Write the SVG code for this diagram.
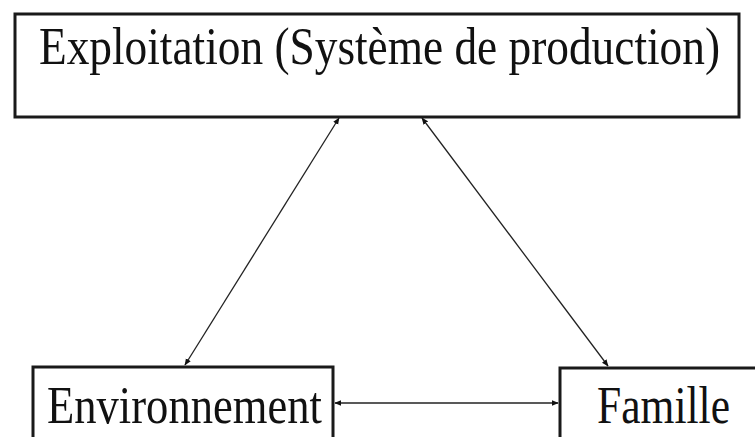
<svg xmlns="http://www.w3.org/2000/svg" width="755" height="437" viewBox="0 0 755 437">
<defs>
<style>
.box{fill:#fff;stroke:#1a1a1a;stroke-width:3}
.lbl{font-family:"Liberation Serif","Times New Roman",serif;font-size:52px;fill:#111}
.con{stroke:#222;stroke-width:1.3;fill:none;marker-start:url(#ah);marker-end:url(#ah)}
</style>
<marker id="ah" viewBox="0 0 10 10" refX="9" refY="5" markerWidth="7" markerHeight="7" markerUnits="userSpaceOnUse" orient="auto-start-reverse">
<path d="M0,1 L10,5 L0,9 z" fill="#111"/>
</marker>
</defs>
<rect width="755" height="437" fill="#fff"/>
<g id="connectors">
<line class="con" x1="339" y1="118" x2="185" y2="365"/>
<line class="con" x1="422" y1="118" x2="608" y2="366"/>
<line class="con" x1="335" y1="403" x2="558" y2="403"/>
</g>
<g id="exploitation">
<rect class="box" x="15" y="14" width="724" height="103"/>
<text class="lbl" transform="translate(39,64) scale(0.872,1)" x="0" y="0" font-size="51">Exploitation (Système de production)</text>
</g>
<g id="environnement">
<rect class="box" x="33" y="367" width="300" height="90"/>
<text class="lbl" x="47" y="423" textLength="275" lengthAdjust="spacingAndGlyphs">Environnement</text>
</g>
<g id="famille">
<rect class="box" x="560" y="368" width="210" height="90"/>
<text class="lbl" x="597" y="423" textLength="133" lengthAdjust="spacingAndGlyphs">Famille</text>
</g>
</svg>
